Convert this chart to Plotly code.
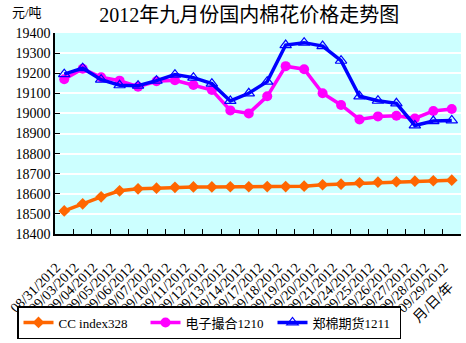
import plotly.graph_objects as go

dates = ["08/31/2012", "09/03/2012", "09/04/2012", "09/05/2012", "09/06/2012", "09/07/2012",
         "09/10/2012", "09/11/2012", "09/12/2012", "09/13/2012", "09/14/2012", "09/17/2012",
         "09/18/2012", "09/19/2012", "09/20/2012", "09/21/2012", "09/24/2012", "09/25/2012",
         "09/26/2012", "09/27/2012", "09/28/2012", "09/29/2012"]

cc_index = [18515, 18550, 18585, 18615, 18625, 18628, 18632, 18634, 18634, 18635, 18635,
            18636, 18636, 18638, 18645, 18648, 18655, 18658, 18660, 18663, 18665, 18668]

dianzi = [19170, 19222, 19180, 19163, 19133, 19160, 19165, 19141, 19116, 19015, 19000,
          19085, 19235, 19220, 19100, 19042, 18970, 18985, 18988, 18975, 19012, 19022]

zhengmian = [19195, 19225, 19168, 19140, 19138, 19163, 19193, 19178, 19148, 19062, 19100,
             19158, 19340, 19352, 19335, 19262, 19085, 19063, 19050, 18940, 18962, 18965]

y_ticks = list(range(18400, 19401, 100))
y_labels = [str(v) for v in y_ticks]

FONT = "Liberation Serif, Noto Sans CJK SC, serif"

fig = go.Figure()
fig.add_trace(go.Scatter(
    x=dates, y=cc_index, name="CC index328", mode="lines+markers",
    line=dict(color="#FF6600", width=3.5),
    marker=dict(symbol="diamond", size=9, color="#FF6600")))
fig.add_trace(go.Scatter(
    x=dates, y=dianzi, name="电子撮合1210", mode="lines+markers",
    line=dict(color="#FF00FF", width=3.5),
    marker=dict(symbol="circle", size=10, color="#FF00FF")))
fig.add_trace(go.Scatter(
    x=dates, y=zhengmian, name="郑棉期货1211", mode="lines+markers",
    line=dict(color="#0000FF", width=3.5),
    marker=dict(symbol="triangle-up-open", size=10, color="#0000FF", line=dict(width=1.2))))

fig.update_layout(
    width=466, height=343,
    margin=dict(l=55, r=5, t=33, b=109, autoexpand=False),
    paper_bgcolor="white", plot_bgcolor="#CCFFFF",
    font=dict(family=FONT, size=13, color="black"),
    title=dict(text="2012年九月份国内棉花价格走势图", x=0.535, xanchor="center",
               y=0.955, yanchor="middle", font=dict(size=20, family=FONT)),
    showlegend=True,
    legend=dict(orientation="h", x=17 / 466, xanchor="left", xref="container",
                y=(343 - 339) / 343, yanchor="bottom", yref="container",
                bordercolor="black", borderwidth=1.5, bgcolor="white",
                font=dict(size=13, family=FONT), entrywidth=82, entrywidthmode="pixels",
                tracegroupgap=0, itemwidth=30),
    xaxis=dict(type="category", tickangle=-45, showgrid=False, automargin=False,
               showline=True, linecolor="black", linewidth=1.5,
               ticks="inside", ticklen=5, tickcolor="black", tickson="boundaries",
               ticklabelstandoff=18, ticklabelshift=-8,
               tickfont=dict(size=14, family=FONT), range=[-0.5, len(dates) - 0.5]),
    yaxis=dict(range=[18400, 19400], tickvals=y_ticks, ticktext=y_labels, automargin=False,
               showgrid=True, gridcolor="white", gridwidth=2,
               showline=True, linecolor="black", linewidth=1.5,
               ticks="inside", ticklen=5, tickcolor="black",
               tickfont=dict(size=14, family=FONT), zeroline=False),
    annotations=[
        dict(text="元/吨", x=-0.07, y=1.1, xref="paper", yref="paper", showarrow=False,
             xanchor="center", yanchor="middle", font=dict(size=13, family=FONT)),
        dict(text="月/日/年", x=(433 - 55) / 406, y=(234 - 302) / 201, xref="paper",
             yref="paper", showarrow=False, xanchor="center", yanchor="middle",
             textangle=-45, font=dict(size=14, family=FONT)),
    ],
)

fig.write_html("out.html")
